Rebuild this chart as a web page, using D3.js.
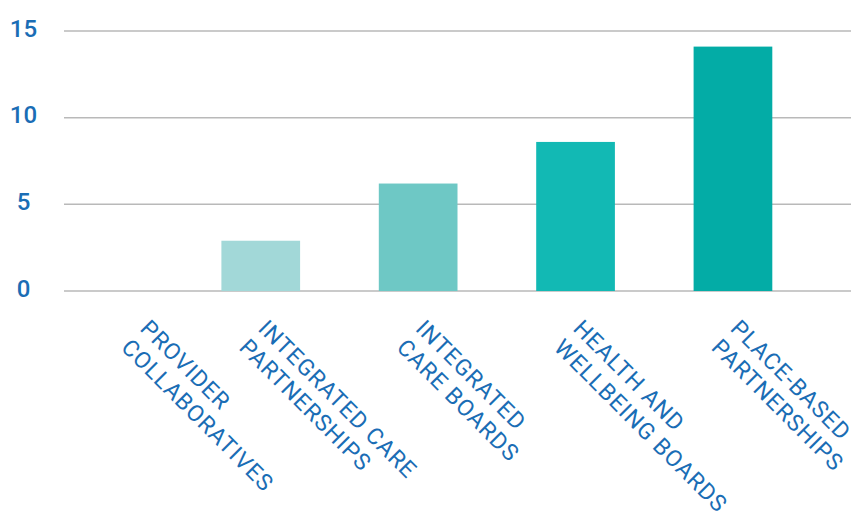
<!DOCTYPE html>
<html>
<head>
<meta charset="utf-8">
<script src="https://cdn.jsdelivr.net/npm/d3@7"></script>
<style>
  html, body { margin: 0; padding: 0; background: #ffffff; }
  svg { display: block; }
</style>
</head>
<body>
<div id="chart"></div>
<script>
// Count of bodies by type
const categories = [
  ["PROVIDER", "COLLABORATIVES"],
  ["INTEGRATED CARE", "PARTNERSHIPS"],
  ["INTEGRATED", "CARE BOARDS"],
  ["HEALTH AND", "WELLBEING BOARDS"],
  ["PLACE-BASED", "PARTNERSHIPS"]
];
const values = [0, 2.9, 6.2, 8.6, 14.1];
const barColors = ["#d3eeee", "#a2d8d8", "#6ec8c5", "#12b9b4", "#03aca6"];
const yTicks = [0, 5, 10, 15];

const width = 859, height = 518;
const textColor = "#1a6db5";

const svg = d3.select("#chart").append("svg")
  .attr("width", width)
  .attr("height", height);

const x = d3.scaleBand()
  .domain(d3.range(categories.length))
  .range([64, 851])
  .paddingInner(0.5)
  .paddingOuter(0.25)
  .align(0);

const y = d3.scaleLinear()
  .domain([0, 15])
  .range([291, 31]);

// gridlines
svg.append("g")
  .selectAll("line")
  .data(yTicks)
  .join("line")
  .attr("x1", x.range()[0])
  .attr("x2", x.range()[1])
  .attr("y1", d => y(d))
  .attr("y2", d => y(d))
  .attr("stroke", "#b9b9b9")
  .attr("stroke-width", 1.5);

// y tick labels
svg.append("g")
  .selectAll("text")
  .data(yTicks)
  .join("text")
  .attr("x", 23.5)
  .attr("y", d => y(d) - 3)
  .attr("dy", "0.36em")
  .attr("text-anchor", "middle")
  .attr("font-family", "Roboto, sans-serif")
  .attr("font-weight", 500)
  .attr("font-size", 24)
  .attr("fill", textColor)
  .text(d => d);

// bars
svg.append("g")
  .selectAll("rect")
  .data(values)
  .join("rect")
  .attr("x", (d, i) => x(i))
  .attr("width", x.bandwidth())
  .attr("y", d => y(d))
  .attr("height", d => y(0) - y(d))
  .attr("fill", (d, i) => barColors[i]);

// rotated category labels; kept clear of the value labels on the left
const labelTop = 318;
const capHeight = 16.5;
const lineHeight = 27;
const labels = svg.append("g")
  .selectAll("g")
  .data(categories)
  .join("g")
  .attr("transform", (d, i) => {
    const cx = Math.max(x(i) + x.bandwidth() / 2, x.range()[0] + x.bandwidth()) + 8;
    return `translate(${cx},${labelTop}) rotate(45)`;
  });

labels.selectAll("text")
  .data(d => d)
  .join("text")
  .attr("x", 0)
  .attr("y", (d, j) => capHeight + j * lineHeight)
  .attr("font-family", "Roboto, sans-serif")
  .attr("font-size", 23)
  .attr("letter-spacing", 1.0)
  .attr("fill", textColor)
  .text(d => d);
</script>
</body>
</html>
